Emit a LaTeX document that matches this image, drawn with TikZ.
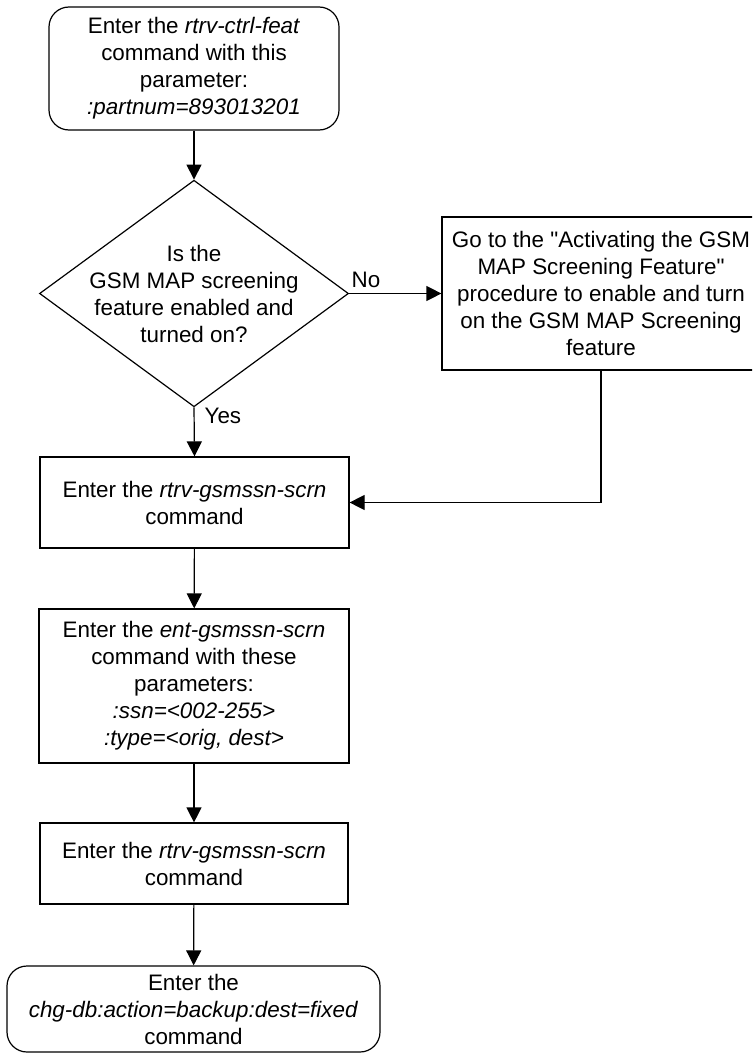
\documentclass[tikz,border=0pt]{standalone}
\usepackage{fontspec}
\setmainfont{Liberation Sans}
\usetikzlibrary{arrows.meta, shapes.geometric}

\begin{document}
\begin{tikzpicture}[
  x=1pt, y=-1pt,
  every node/.style={align=center, inner sep=0pt, font=\fontsize{22.4}{27}\selectfont},
  terminal/.style={draw, rectangle, rounded corners=20pt, line width=1.2pt},
  process/.style={draw, rectangle, line width=1.2pt},
  decision/.style={draw, diamond, inner sep=-20pt, line width=1.2pt, minimum width=309pt, minimum height=207pt},
  arrow/.style={-{Triangle[length=15pt, width=15pt]}, line width=1.2pt}
]
\path[use as bounding box, clip] (0,0) rectangle (752,1054);

% Start
\node[terminal, minimum width=290pt, minimum height=123pt] (start) at (194,68.5)
  {Enter the \textit{rtrv-ctrl-feat}\\command with this\\parameter:\\\textit{:partnum=893013201}};

% Decision
\node[decision] (enabled) at (194,293.5)
  {Is the\\GSM MAP screening\\feature enabled and\\turned on?};

% Side procedure
\node[process, minimum width=318pt, minimum height=153pt] (activate) at (601,293.5)
  {Go to the \textquotedbl Activating the GSM\\MAP Screening Feature\textquotedbl\\procedure to enable and turn\\on the GSM MAP Screening\\feature};

% Commands
\node[process, minimum width=309pt, minimum height=91pt] (rtrv1) at (194.5,502.5)
  {Enter the \textit{rtrv-gsmssn-scrn}\\command};
\node[process, minimum width=310pt, minimum height=154pt] (ent) at (194,686)
  {Enter the \textit{ent-gsmssn-scrn}\\command with these\\parameters:\\\textit{:ssn=<002-255>}\\\textit{:type=<orig, dest>}};
\node[process, minimum width=308pt, minimum height=81pt] (rtrv2) at (194,863.5)
  {Enter the \textit{rtrv-gsmssn-scrn}\\command};

% End
\node[terminal, minimum width=373pt, minimum height=86pt] (backup) at (193.5,1009)
  {Enter the\\\textit{chg-db:action=backup:dest=fixed}\\command};

% Arrows
\draw[arrow] (start) -- (enabled);
\draw[arrow] (enabled.east) -- node[pos=0, anchor=south west, inner xsep=2pt, inner ysep=5pt] (no) {No} (activate.west);
\draw[arrow] (enabled.south) -- node[pos=0, anchor=north west, inner xsep=10pt, inner ysep=0pt] (yes) {Yes} (rtrv1.north);
\draw[arrow] (activate.south) |- (rtrv1.east);
\draw[arrow] (rtrv1) -- (ent);
\draw[arrow] (ent) -- (rtrv2);
\draw[arrow] (rtrv2) -- (backup);

\end{tikzpicture}
\end{document}
